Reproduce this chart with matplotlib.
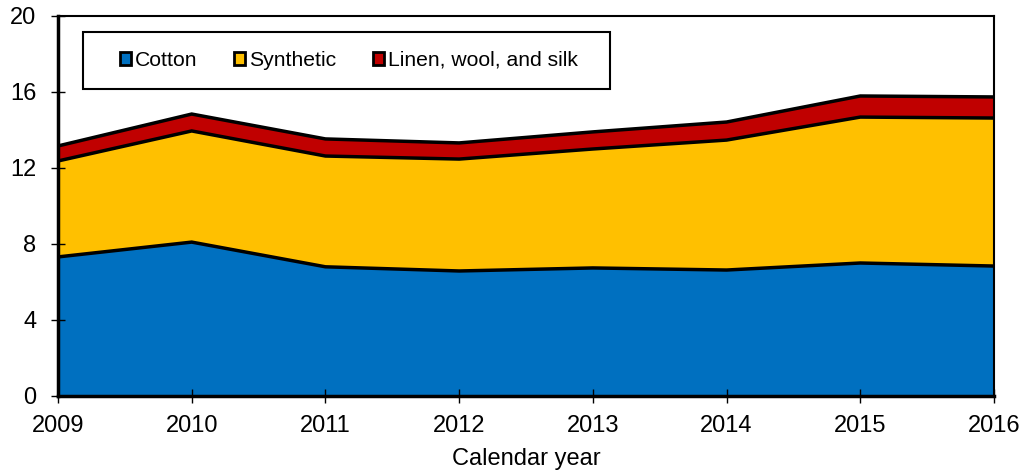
import matplotlib.pyplot as plt
import numpy as np
from matplotlib.patches import Patch, Rectangle

plt.rcParams['font.family'] = ['Liberation Sans', 'DejaVu Sans']

years = [2009, 2010, 2011, 2012, 2013, 2014, 2015, 2016]
cotton = [7.32, 8.10, 6.80, 6.58, 6.74, 6.63, 7.00, 6.84]
synthetic = [5.05, 5.85, 5.83, 5.89, 6.26, 6.84, 7.68, 7.79]
linen_wool_silk = [0.79, 0.89, 0.90, 0.85, 0.90, 0.95, 1.11, 1.11]

labels = ['Cotton', 'Synthetic', 'Linen, wool, and silk']
colors = ['#0070C0', '#FFC000', '#C00000']

fig = plt.figure(figsize=(10.31, 4.70), dpi=100)
ax = fig.add_axes([58 / 1031, 1 - 396 / 470, 936 / 1031, 380 / 470])

series = [cotton, synthetic, linen_wool_silk]
bottom = np.zeros(len(years))
for vals, color in zip(series, colors):
    top = bottom + np.array(vals)
    ax.fill_between(years, bottom, top, color=color, linewidth=0)
    ax.plot(years, top, color='black', linewidth=2.5, solid_joinstyle='miter')
    bottom = top

ax.set_xlim(2009, 2016)
ax.set_ylim(0, 20)
ax.set_xticks(years)
ax.set_yticks(range(0, 21, 4))
ax.tick_params(direction='inout', length=10.5, width=1, labelsize=17)
ax.tick_params(axis='x', pad=8.5)
ax.tick_params(axis='y', pad=10.5)
for s in ax.spines.values():
    s.set_linewidth(1.5)
ax.spines['left'].set_linewidth(2.5)
ax.spines['bottom'].set_linewidth(2.5)
ax.set_xlabel('Calendar year', fontsize=17, labelpad=7.5)

# legend box drawn by hand, wider padding left/right than matplotlib allows
ax.add_patch(Rectangle((25 / 936, 1 - 73 / 380), 527 / 936, 57 / 380, transform=ax.transAxes,
                       facecolor='white', edgecolor='black', linewidth=1.5, zorder=4))
handles = [Patch(facecolor=c, edgecolor='black', linewidth=2) for c in colors]
leg = ax.legend(handles, labels, loc='center left', bbox_to_anchor=(62 / 936, 1 - 44.5 / 380),
                ncol=3, fontsize=15.2, frameon=False,
                handlelength=0.5, handleheight=0.5, handletextpad=0.2, columnspacing=1.75,
                borderpad=0, borderaxespad=0)
leg.set_zorder(5)

fig.savefig('out.png', dpi=100)
